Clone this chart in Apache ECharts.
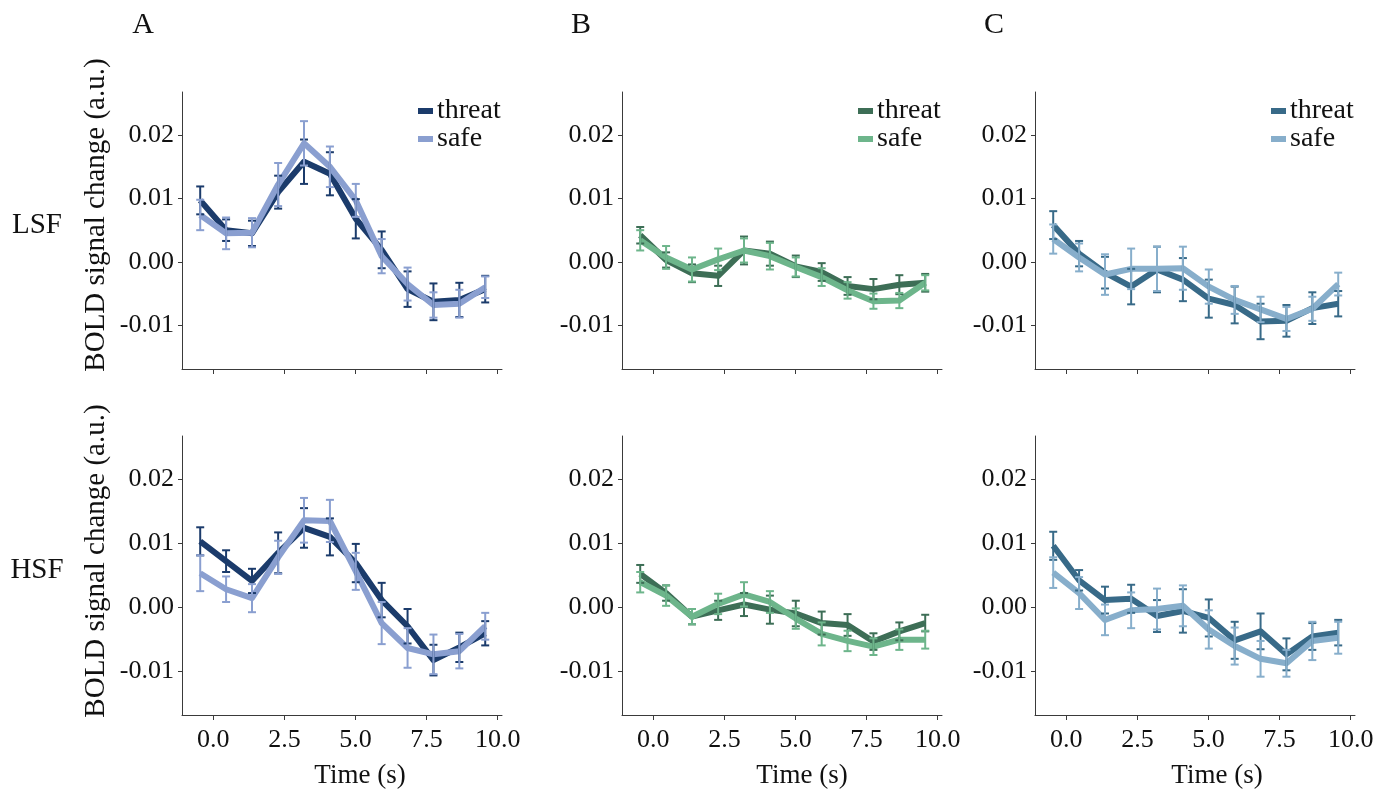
<!DOCTYPE html>
<html>
<head>
<meta charset="utf-8">
<script src="https://cdn.jsdelivr.net/npm/echarts@6/dist/echarts.min.js"></script>
<style>
html,body{margin:0;padding:0;background:#fff;}
#chart{width:1391px;height:795px;}
</style>
</head>
<body>
<div id="chart"></div>
<script>
// ---- data ----
const timePoints = [-0.46, 0.45, 1.36, 2.28, 3.19, 4.10, 5.01, 5.92, 6.83, 7.74, 8.65, 9.56];
const xTicks = [0, 2.5, 5, 7.5, 10];
const yTicks = [-0.01, 0, 0.01, 0.02];
const columnLetters = ['A', 'B', 'C'];
const rowNames = ['LSF', 'HSF'];
const conditionNames = ['threat', 'safe'];

// Panel A
const A_LSF_threat     = [0.0097, 0.0050, 0.0045, 0.0110, 0.0158, 0.0139, 0.0068, 0.0019, -0.0043, -0.0063, -0.0060, -0.0043];
const A_LSF_threat_err = [0.0022, 0.0017, 0.0020, 0.0026, 0.0035, 0.0034, 0.0031, 0.0029, 0.0028, 0.0029, 0.0027, 0.0021];
const A_LSF_safe       = [0.0074, 0.0045, 0.0046, 0.0122, 0.0187, 0.0150, 0.0097, 0.0009, -0.0035, -0.0068, -0.0066, -0.0040];
const A_LSF_safe_err   = [0.0024, 0.0025, 0.0023, 0.0034, 0.0035, 0.0032, 0.0026, 0.0027, 0.0026, 0.0020, 0.0022, 0.0017];
const A_HSF_threat     = [0.0103, 0.0072, 0.0041, 0.0085, 0.0124, 0.0110, 0.0069, 0.0011, -0.0030, -0.0083, -0.0063, -0.0041];
const A_HSF_threat_err = [0.0022, 0.0017, 0.0019, 0.0032, 0.0031, 0.0029, 0.0030, 0.0027, 0.0027, 0.0024, 0.0023, 0.0019];
const A_HSF_safe       = [0.0053, 0.0028, 0.0014, 0.0078, 0.0136, 0.0135, 0.0056, -0.0025, -0.0064, -0.0074, -0.0069, -0.0030];
const A_HSF_safe_err   = [0.0028, 0.0020, 0.0022, 0.0026, 0.0035, 0.0033, 0.0029, 0.0033, 0.0031, 0.0031, 0.0027, 0.0021];
// Panel B
const B_LSF_threat     = [0.0042, 0.0003, -0.0018, -0.0022, 0.0018, 0.0013, -0.0007, -0.0016, -0.0038, -0.0043, -0.0036, -0.0033];
const B_LSF_threat_err = [0.0013, 0.0012, 0.0014, 0.0016, 0.0022, 0.0019, 0.0017, 0.0014, 0.0014, 0.0016, 0.0015, 0.0014];
const B_LSF_safe       = [0.0034, 0.0007, -0.0012, 0.0004, 0.0018, 0.0009, -0.0008, -0.0024, -0.0045, -0.0062, -0.0061, -0.0033];
const B_LSF_safe_err   = [0.0016, 0.0018, 0.0019, 0.0017, 0.0019, 0.0021, 0.0015, 0.0014, 0.0013, 0.0012, 0.0012, 0.0012];
const B_HSF_threat     = [0.0052, 0.0022, -0.0015, -0.0005, 0.0004, -0.0004, -0.0010, -0.0025, -0.0028, -0.0054, -0.0038, -0.0025];
const B_HSF_threat_err = [0.0014, 0.0012, 0.0012, 0.0015, 0.0018, 0.0022, 0.0020, 0.0018, 0.0017, 0.0013, 0.0014, 0.0013];
const B_HSF_safe       = [0.0039, 0.0018, -0.0015, 0.0005, 0.0020, 0.0008, -0.0018, -0.0042, -0.0053, -0.0062, -0.0051, -0.0051];
const B_HSF_safe_err   = [0.0016, 0.0016, 0.0012, 0.0016, 0.0019, 0.0017, 0.0016, 0.0018, 0.0016, 0.0013, 0.0016, 0.0014];
// Panel C
const C_LSF_threat     = [0.0058, 0.0013, -0.0017, -0.0039, -0.0012, -0.0028, -0.0058, -0.0068, -0.0094, -0.0093, -0.0073, -0.0066];
const C_LSF_threat_err = [0.0022, 0.0020, 0.0025, 0.0028, 0.0036, 0.0034, 0.0030, 0.0029, 0.0028, 0.0025, 0.0025, 0.0020];
const C_LSF_safe       = [0.0036, 0.0007, -0.0020, -0.0011, -0.0011, -0.0010, -0.0039, -0.0060, -0.0075, -0.0090, -0.0074, -0.0035];
const C_LSF_safe_err   = [0.0023, 0.0022, 0.0032, 0.0032, 0.0035, 0.0034, 0.0027, 0.0022, 0.0020, 0.0019, 0.0019, 0.0018];
const C_HSF_threat     = [0.0096, 0.0042, 0.0011, 0.0013, -0.0014, -0.0006, -0.0017, -0.0052, -0.0038, -0.0074, -0.0046, -0.0040];
const C_HSF_threat_err = [0.0022, 0.0016, 0.0021, 0.0022, 0.0025, 0.0034, 0.0029, 0.0029, 0.0028, 0.0025, 0.0021, 0.0020];
const C_HSF_safe       = [0.0054, 0.0022, -0.0020, -0.0005, -0.0003, 0.0002, -0.0035, -0.0061, -0.0081, -0.0088, -0.0053, -0.0048];
const C_HSF_safe_err   = [0.0024, 0.0025, 0.0024, 0.0028, 0.0032, 0.0032, 0.0030, 0.0029, 0.0028, 0.0021, 0.0030, 0.0025];

// ---- styling / layout ----
const FONT = '"Liberation Serif", "Times New Roman", serif';
const colColors = [
  ['#1b3b6b', '#8a9fd0'],
  ['#3d6e56', '#6db58b'],
  ['#386a88', '#87aecb']
];
const gridLefts = [182, 622, 1035];
const gridWidth = 320;
const rowTops = [92, 436];
const rowHeights = [277, 279];
const X_MIN = -1.1, X_MAX = 10.15;
const Y_MIN = -0.0169, Y_MAX = 0.0268;

const panelData = [
  [[A_LSF_threat, A_LSF_threat_err, A_LSF_safe, A_LSF_safe_err], [A_HSF_threat, A_HSF_threat_err, A_HSF_safe, A_HSF_safe_err]],
  [[B_LSF_threat, B_LSF_threat_err, B_LSF_safe, B_LSF_safe_err], [B_HSF_threat, B_HSF_threat_err, B_HSF_safe, B_HSF_safe_err]],
  [[C_LSF_threat, C_LSF_threat_err, C_LSF_safe, C_LSF_safe_err], [C_HSF_threat, C_HSF_threat_err, C_HSF_safe, C_HSF_safe_err]]
];

const grids = [], xAxes = [], yAxes = [], series = [], legends = [];
const axisColor = '#3a3a3a';

function errRender(color) {
  return function (params, api) {
    const x = api.value(0), lo = api.value(1), hi = api.value(2);
    const p1 = api.coord([x, lo]);
    const p2 = api.coord([x, hi]);
    const hw = 4;
    const st = { stroke: color, lineWidth: 2 };
    return {
      type: 'group',
      children: [
        { type: 'line', shape: { x1: p1[0], y1: p1[1], x2: p2[0], y2: p2[1] }, style: st },
        { type: 'line', shape: { x1: p1[0] - hw, y1: p1[1], x2: p1[0] + hw, y2: p1[1] }, style: st },
        { type: 'line', shape: { x1: p2[0] - hw, y1: p2[1], x2: p2[0] + hw, y2: p2[1] }, style: st }
      ]
    };
  };
}

let gi = 0;
for (let r = 0; r < 2; r++) {
  for (let c = 0; c < 3; c++) {
    grids.push({ left: gridLefts[c], top: rowTops[r], width: gridWidth, height: rowHeights[r], containLabel: false });
    xAxes.push({
      gridIndex: gi, type: 'value', min: X_MIN, max: X_MAX,
      axisLine: { show: true, onZero: false, lineStyle: { color: axisColor, width: 1 } },
      axisTick: { show: true, length: 5, customValues: xTicks, lineStyle: { color: axisColor } },
      axisLabel: { show: r === 1, customValues: xTicks, formatter: v => v.toFixed(1),
                   fontFamily: FONT, fontSize: 26, color: '#111', margin: 12 },
      splitLine: { show: false }
    });
    yAxes.push({
      gridIndex: gi, type: 'value', min: Y_MIN, max: Y_MAX,
      axisLine: { show: true, onZero: false, lineStyle: { color: axisColor, width: 1 } },
      axisTick: { show: true, length: 4, customValues: yTicks, lineStyle: { color: axisColor } },
      axisLabel: { show: true, customValues: yTicks, formatter: v => v.toFixed(2),
                   fontFamily: FONT, fontSize: 26, color: '#111', margin: 8 },
      splitLine: { show: false }
    });
    const d = panelData[c][r];
    for (let k = 0; k < 2; k++) {
      const vals = d[k * 2];
      const color = colColors[c][k];
      const nm = columnLetters[c] + rowNames[r] + ' ' + conditionNames[k];
      series.push({
        name: nm, type: 'line', xAxisIndex: gi, yAxisIndex: gi,
        data: timePoints.map((t, i) => [t, vals[i]]),
        showSymbol: false, symbol: 'none', z: 2 + k,
        lineStyle: { color: color, width: 6, join: 'round' },
        itemStyle: { color: color },
        animation: false
      });
    }
    for (let k = 0; k < 2; k++) {
      const vals = d[k * 2], errs = d[k * 2 + 1];
      const color = colColors[c][k];
      series.push({
        type: 'custom', xAxisIndex: gi, yAxisIndex: gi, z: 5,
        renderItem: errRender(color),
        encode: { x: 0, y: [1, 2] },
        data: timePoints.map((t, i) => [t, vals[i] - errs[i], vals[i] + errs[i]]),
        animation: false, silent: true
      });
    }
    if (r === 0) {
      legends.push({
        orient: 'vertical', left: gridLefts[c] + gridWidth - 84, top: 97,
        itemWidth: 15, itemHeight: 6, itemGap: 0, icon: 'rect',
        data: conditionNames.map(n => columnLetters[c] + rowNames[r] + ' ' + n),
        formatter: n => n.split(' ')[1],
        textStyle: { fontFamily: FONT, fontSize: 28, color: '#111', lineHeight: 26, padding: [0, 0, 0, -1] },
        padding: 0, selectedMode: false
      });
    }
    gi++;
  }
}

const graphics = [];
const letterX = [143, 581, 994];
columnLetters.forEach((L, i) => {
  graphics.push({ type: 'text', x: letterX[i], y: 25,
    style: { text: L, font: '30px ' + FONT, fill: '#111', align: 'center', verticalAlign: 'middle' } });
});
const rowLabelY = [225, 570];
rowNames.forEach((n, i) => {
  graphics.push({ type: 'text', x: 37, y: rowLabelY[i],
    style: { text: n, font: '29px ' + FONT, fill: '#111', align: 'center', verticalAlign: 'middle' } });
});
const yTitleY = [215, 561];
yTitleY.forEach(y => {
  graphics.push({ type: 'text', x: 96, y: y, rotation: Math.PI / 2,
    style: { text: 'BOLD signal change (a.u.)', font: '29px ' + FONT, fill: '#111', align: 'center', verticalAlign: 'middle' } });
});
const timeX = [360, 802, 1217];
timeX.forEach(x => {
  graphics.push({ type: 'text', x: x, y: 776,
    style: { text: 'Time (s)', font: '27px ' + FONT, fill: '#111', align: 'center', verticalAlign: 'middle' } });
});

const chart = echarts.init(document.getElementById('chart'), null, { renderer: 'canvas' });
chart.setOption({
  backgroundColor: '#ffffff',
  animation: false,
  grid: grids,
  xAxis: xAxes,
  yAxis: yAxes,
  legend: legends,
  series: series,
  graphic: graphics
});
</script>
</body>
</html>
